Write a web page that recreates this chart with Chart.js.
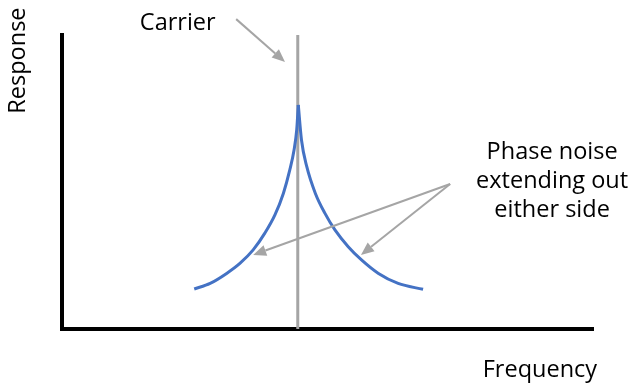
<!DOCTYPE html>
<html>
<head>
<meta charset="utf-8">
<script src="https://cdn.jsdelivr.net/npm/chart.js@4"></script>
<style>
  html, body { margin: 0; padding: 0; background: #fff; }
  #wrap { width: 634px; height: 385px; position: relative; }
</style>
</head>
<body>
<div id="wrap"><canvas id="phaseNoiseChart"></canvas></div>
<script>
// frequency axis 0..100, response axis 0..100 (arbitrary units)
const leftNoiseX  = [24.9, 27.9, 31.0, 33.5, 36.0, 38.2, 40.1, 41.7, 42.9, 43.7, 44.2, 44.5];
const leftNoiseY  = [13.6, 15.5, 18.9, 22.3, 26.9, 32.6, 38.8, 46.2, 54.1, 60.9, 67.7, 76.2];
const rightNoiseX = [44.5, 45.1, 46.1, 47.7, 49.5, 51.4, 53.9, 56.4, 59.6, 63.3, 68.0];
const rightNoiseY = [76.2, 64.3, 55.2, 46.2, 39.4, 33.7, 28.0, 23.5, 18.9, 15.5, 13.5];
const carrierX = [44.4, 44.4];
const carrierY = [0, 100];

// annotation text and arrows, in data units
const labelText = ['Carrier', 'Phase noise', 'extending out', 'either side', 'Frequency'];
const labelX    = [21.8, 92.3, 92.3, 92.3, 90.0];
const labelY    = [101.7, 57.8, 48.0, 38.1, -16.2];
const yTitle = 'Response';
const arrowFromX = [32.8, 73.1, 73.1];
const arrowFromY = [105.4, 49.3, 49.3];
const arrowToX   = [42.0, 36.0, 56.3];
const arrowToY   = [90.8, 25.2, 25.2];

const toPoints = (xs, ys) => xs.map((x, i) => ({ x: x, y: ys[i] }));

const FONT = '23.5px "Open Sans"';
const GREY = '#a5a5a5';

const annotations = {
    id: 'annotations',
    afterDatasetsDraw(chart) {
        const ctx = chart.ctx;
        const sx = chart.scales.x, sy = chart.scales.y;
        ctx.save();
        // arrows
        ctx.strokeStyle = GREY;
        ctx.fillStyle = GREY;
        ctx.lineWidth = 2;
        for (let i = 0; i < arrowFromX.length; i++) {
            const x1 = sx.getPixelForValue(arrowFromX[i]);
            const y1 = sy.getPixelForValue(arrowFromY[i]);
            const x2 = sx.getPixelForValue(arrowToX[i]);
            const y2 = sy.getPixelForValue(arrowToY[i]);
            const a = Math.atan2(y2 - y1, x2 - x1);
            const head = 13, half = 5.5;
            const bx = x2 - head * Math.cos(a), by = y2 - head * Math.sin(a);
            ctx.beginPath();
            ctx.moveTo(x1, y1);
            ctx.lineTo(bx, by);
            ctx.stroke();
            ctx.beginPath();
            ctx.moveTo(x2, y2);
            ctx.lineTo(bx + half * Math.sin(a), by - half * Math.cos(a));
            ctx.lineTo(bx - half * Math.sin(a), by + half * Math.cos(a));
            ctx.closePath();
            ctx.fill();
        }
        // labels
        ctx.fillStyle = '#000';
        ctx.font = FONT;
        ctx.textAlign = 'center';
        ctx.textBaseline = 'alphabetic';
        labelText.forEach((t, i) => {
            ctx.fillText(t, sx.getPixelForValue(labelX[i]), sy.getPixelForValue(labelY[i]));
        });
        // rotated y title
        ctx.translate(sx.getPixelForValue(-7.0), sy.getPixelForValue(91.3));
        ctx.rotate(-Math.PI / 2);
        ctx.fillText(yTitle, 0, 0);
        ctx.restore();
    }
};

new Chart(document.getElementById('phaseNoiseChart'), {
    type: 'scatter',
    data: {
        datasets: [
            {
                data: toPoints(leftNoiseX, leftNoiseY),
                showLine: true,
                borderColor: '#4472c4',
                borderWidth: 3,
                pointRadius: 0,
                cubicInterpolationMode: 'monotone'
            },
            {
                data: toPoints(rightNoiseX, rightNoiseY),
                showLine: true,
                borderColor: '#4472c4',
                borderWidth: 3,
                pointRadius: 0,
                cubicInterpolationMode: 'monotone'
            },
            {
                data: toPoints(carrierX, carrierY),
                showLine: true,
                borderColor: GREY,
                borderWidth: 3,
                pointRadius: 0
            }
        ]
    },
    options: {
        responsive: true,
        maintainAspectRatio: false,
        animation: false,
        layout: { padding: { left: 62, right: 41, top: 35, bottom: 56 } },
        plugins: {
            legend: { display: false },
            tooltip: { enabled: false }
        },
        scales: {
            x: {
                type: 'linear', min: 0, max: 100, z: 1,
                ticks: { display: false },
                grid: { display: false, drawTicks: false },
                border: { display: true, color: '#000', width: 4 }
            },
            y: {
                type: 'linear', min: 0, max: 100, z: 1,
                ticks: { display: false },
                grid: { display: false, drawTicks: false },
                border: { display: true, color: '#000', width: 4 }
            }
        }
    },
    plugins: [annotations]
});
</script>
</body>
</html>
